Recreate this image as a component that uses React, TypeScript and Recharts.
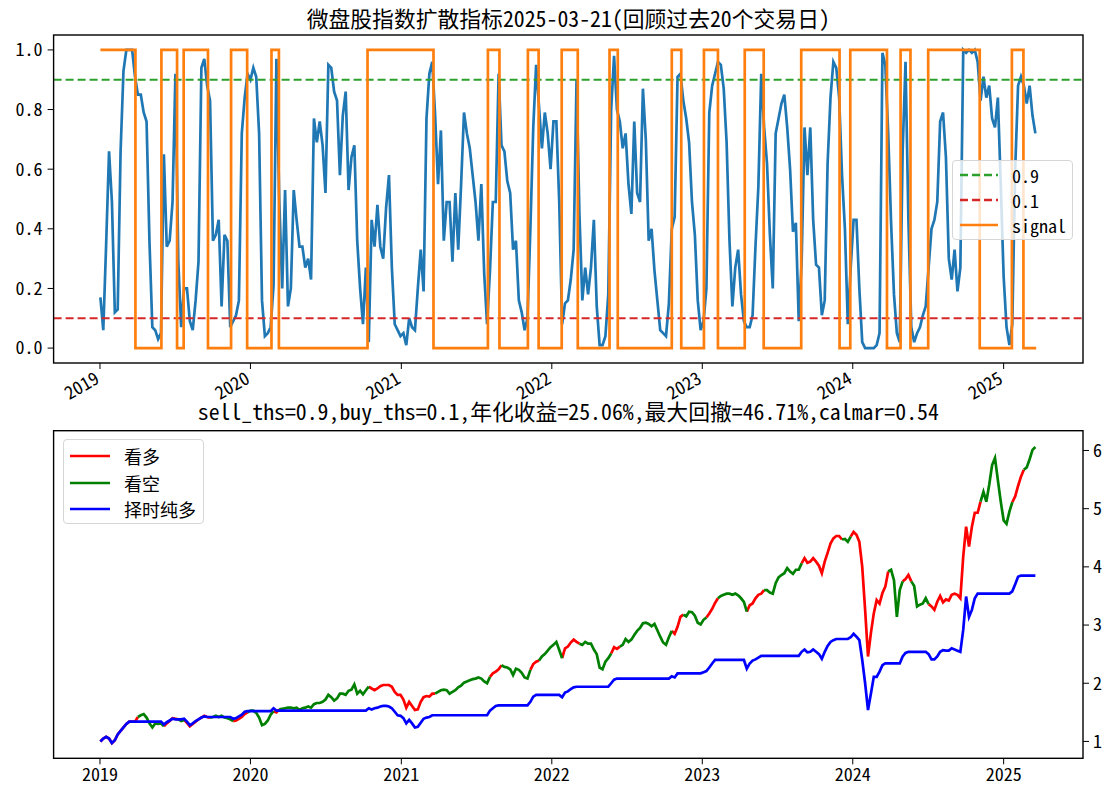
import { LineChart, Line, XAxis, YAxis, ReferenceLine } from 'recharts';

const FONT = "'Noto Sans Mono CJK SC', 'Noto Sans CJK SC', 'Noto Sans', sans-serif";
const DAY = 24 * 3600 * 1000;
const START = Date.UTC(2019, 0, 2);
const END = Date.UTC(2025, 2, 21);

// 扩散指标，从2019-01-02起每周一个点
const breadth2019 = [
  0.17, 0.06, 0.35, 0.66, 0.49, 0.12, 0.13, 0.66, 0.93, 1.0,
  1.0, 1.0, 0.91, 0.85, 0.85, 0.79, 0.76, 0.36, 0.07, 0.06,
  0.03, 0.05, 0.65, 0.34, 0.36, 0.49, 0.92, 0.29, 0.07, 0.2,
  0.2, 0.09, 0.06, 0.16, 0.29, 0.94, 0.97, 0.88, 0.83, 0.36,
  0.38, 0.43, 0.14, 0.38, 0.36, 0.07, 0.09, 0.11, 0.16, 0.72,
  0.84, 0.92,
];
const breadth2020 = [
  0.9, 0.94, 0.91, 0.72, 0.16, 0.04, 0.05, 0.07, 0.21, 0.97,
  0.49, 0.2, 0.53, 0.14, 0.2, 0.53, 0.43, 0.34, 0.34, 0.27,
  0.3, 0.23, 0.77, 0.69, 0.76, 0.68, 0.52, 0.95, 0.94, 0.86,
  0.83, 0.58, 0.78, 0.86, 0.53, 0.64, 0.68, 0.36, 0.2, 0.08,
  0.27, 0.02, 0.43, 0.34, 0.48, 0.34, 0.3, 0.47, 0.58, 0.27,
  0.08, 0.06,
];
const breadth2021 = [
  0.04, 0.05, 0.01, 0.1, 0.07, 0.06, 0.2, 0.33, 0.19, 0.77,
  0.92, 0.96, 0.78, 0.55, 0.73, 0.36, 0.49, 0.49, 0.29, 0.52,
  0.33, 0.55, 0.79, 0.72, 0.67, 0.58, 0.49, 0.36, 0.55, 0.25,
  0.08, 0.26, 0.49, 0.49, 0.92, 0.68, 0.66, 0.56, 0.52, 0.33,
  0.36, 0.16, 0.12, 0.06, 0.1, 0.4, 0.74, 0.95, 0.81, 0.67,
  0.79, 0.72,
];
const breadth2022 = [
  0.6, 0.76, 0.76, 0.49, 0.08, 0.15, 0.16, 0.23, 0.33, 0.9,
  0.45, 0.16, 0.27, 0.18, 0.27, 0.43, 0.14, 0.01, 0.01, 0.04,
  0.18, 0.8, 0.98, 0.8, 0.76, 0.67, 0.72, 0.55, 0.45, 0.76,
  0.52, 0.49, 0.87, 0.7, 0.36, 0.4, 0.26, 0.16, 0.06, 0.05,
  0.04, 0.15, 0.4, 0.44, 0.91, 0.92, 0.83, 0.77, 0.69, 0.49,
  0.38, 0.16,
];
const breadth2023 = [
  0.06, 0.09, 0.2, 0.79, 0.88, 0.92, 0.96, 0.95, 0.87, 0.69,
  0.36, 0.14, 0.27, 0.33, 0.18, 0.09, 0.07, 0.07, 0.11, 0.34,
  0.54, 0.92, 0.74, 0.62, 0.38, 0.2, 0.72, 0.77, 0.82, 0.85,
  0.74, 0.6, 0.39, 0.42, 0.09, 0.29, 0.74, 0.58, 0.74, 0.43,
  0.28, 0.27, 0.11, 0.16, 0.62, 0.84, 0.96, 0.94, 0.84, 0.58,
  0.4, 0.08,
];
const breadth2024 = [
  0.27, 0.43, 0.43, 0.2, 0.02, 0.0, 0.0, 0.0, 0.0, 0.01,
  0.05, 0.99, 0.95, 0.72, 0.42, 0.18, 0.05, 0.02, 0.66, 0.96,
  0.43, 0.07, 0.02, 0.05, 0.07, 0.11, 0.14, 0.27, 0.4, 0.43,
  0.49, 0.76, 0.79, 0.64, 0.3, 0.23, 0.33, 0.19, 0.27, 1.0,
  0.99, 1.0, 0.99, 1.0, 0.96, 0.83, 0.91, 0.84, 0.88, 0.77,
  0.74, 0.84,
];
const breadth2025 = [0.55, 0.24, 0.07, 0.01, 0.08, 0.6, 0.88, 0.91, 0.88, 0.82, 0.88, 0.78, 0.72];

// 信号切换日期 (1 = 看多, 0 = 看空)
const signalSwitches: [string, number][] = [
  ['2019-01-02', 1], ['2019-03-28', 0], ['2019-05-30', 1], ['2019-07-07', 0],
  ['2019-07-23', 1], ['2019-09-20', 0], ['2019-11-15', 1], ['2019-12-24', 0],
  ['2020-02-21', 1], ['2020-03-10', 0], ['2020-10-11', 1], ['2021-03-20', 0],
  ['2021-07-30', 1], ['2021-08-27', 0], ['2021-11-04', 1], ['2021-11-30', 0],
  ['2022-01-25', 1], ['2022-03-05', 0], ['2022-05-21', 1], ['2022-06-10', 0],
  ['2022-10-19', 1], ['2022-11-11', 0], ['2023-01-05', 1], ['2023-02-08', 0],
  ['2023-04-14', 1], ['2023-05-30', 0], ['2023-08-29', 1], ['2023-11-30', 0],
  ['2023-12-26', 1], ['2024-03-24', 0], ['2024-04-26', 1], ['2024-05-20', 0],
  ['2024-07-02', 1], ['2024-11-04', 0], ['2025-01-21', 1], ['2025-02-18', 0],
  ['2025-03-21', 0],
];

// 微盘股净值
const index2019 = [
  1.0, 1.05, 1.08, 1.05, 0.97, 1.02, 1.12, 1.18, 1.24, 1.3,
  1.34, 1.34, 1.34, 1.42, 1.45, 1.47, 1.41, 1.31, 1.24, 1.31,
  1.3, 1.31, 1.26, 1.31, 1.35, 1.4, 1.39, 1.38, 1.35, 1.37,
  1.32, 1.26, 1.3, 1.34, 1.38, 1.41, 1.44, 1.42, 1.41, 1.42,
  1.44, 1.42, 1.44, 1.41, 1.4, 1.38, 1.35, 1.36, 1.39, 1.42,
  1.47, 1.5,
];
const index2020 = [
  1.53, 1.53, 1.49, 1.41, 1.28, 1.3, 1.36, 1.46, 1.52, 1.5,
  1.55, 1.56, 1.57, 1.58, 1.58, 1.57, 1.58, 1.54, 1.57, 1.58,
  1.6, 1.58, 1.64, 1.66, 1.66, 1.68, 1.72, 1.8, 1.76, 1.7,
  1.74, 1.82, 1.82, 1.8, 1.87, 1.89, 1.98, 1.82, 1.87, 1.81,
  1.88, 1.94, 1.91, 1.88, 1.91, 1.95, 1.97, 1.97, 1.97, 1.94,
  1.85, 1.8,
];
const index2021 = [
  1.8, 1.72, 1.58, 1.68, 1.61, 1.54, 1.55, 1.68, 1.76, 1.78,
  1.77, 1.82, 1.82, 1.85, 1.88, 1.89, 1.88, 1.82, 1.85, 1.88,
  1.93, 1.96, 2.01, 2.03, 2.05, 2.07, 2.08, 2.1, 2.08, 2.03,
  2.0, 2.11, 2.17, 2.2, 2.24, 2.31, 2.28, 2.27, 2.24, 2.14,
  2.25, 2.23, 2.18, 2.1, 2.08, 2.23, 2.33, 2.37, 2.39, 2.46,
  2.5, 2.56,
];
const index2022 = [
  2.62, 2.66, 2.71, 2.57, 2.43, 2.6, 2.63, 2.7, 2.75, 2.71,
  2.68, 2.66, 2.71, 2.68, 2.68, 2.58, 2.5, 2.27, 2.24, 2.37,
  2.43, 2.51, 2.62, 2.59, 2.63, 2.66, 2.76, 2.71, 2.75, 2.83,
  2.9, 2.95, 3.03, 3.04, 3.02, 2.98, 3.02, 2.91, 2.8, 2.7,
  2.66, 2.79, 2.9, 2.85, 2.97, 3.14, 3.18, 3.15, 3.23, 3.22,
  3.16, 3.04,
];
const index2023 = [
  3.01, 3.09, 3.13, 3.2, 3.28, 3.38, 3.46, 3.5, 3.52, 3.54,
  3.54, 3.52, 3.54, 3.51, 3.46, 3.4, 3.23, 3.34, 3.37, 3.46,
  3.52, 3.54, 3.6, 3.6, 3.56, 3.54, 3.72, 3.82, 3.86, 3.89,
  3.98, 3.92, 3.88, 3.95, 3.95, 4.06, 4.15, 4.07, 4.09, 4.15,
  4.09, 4.02, 3.89, 4.09, 4.24, 4.4, 4.49, 4.53, 4.53, 4.47,
  4.48, 4.43,
];
const index2024 = [
  4.52, 4.6, 4.55, 4.43, 4.0, 3.26, 2.46, 2.86, 3.2, 3.43,
  3.37, 3.55, 3.66, 3.92, 3.95, 3.77, 3.14, 3.6, 3.75, 3.79,
  3.86, 3.75, 3.67, 3.32, 3.35, 3.37, 3.46, 3.36, 3.32, 3.26,
  3.4, 3.5, 3.39, 3.44, 3.42, 3.52, 3.54, 3.52, 3.46, 4.18,
  4.69, 4.35, 4.69, 4.93, 4.93, 5.12, 5.29, 5.12, 5.41, 5.75,
  5.87, 5.49,
];
const index2025 = [5.12, 4.8, 4.74, 4.95, 5.11, 5.21, 5.39, 5.55, 5.67, 5.71, 5.85, 6.01, 6.06];

// 择时纯多
const longOnly2019 = [
  1.0, 1.05, 1.08, 1.05, 0.97, 1.02, 1.12, 1.18, 1.24, 1.3,
  1.34, 1.34, 1.34, 1.34, 1.34, 1.34, 1.34, 1.34, 1.34, 1.34,
  1.34, 1.34, 1.29, 1.33, 1.36, 1.39, 1.38, 1.38, 1.38, 1.39,
  1.34, 1.28, 1.31, 1.35, 1.38, 1.41, 1.43, 1.42, 1.42, 1.42,
  1.42, 1.42, 1.42, 1.42, 1.42, 1.42, 1.39, 1.4, 1.43, 1.46,
  1.51, 1.52,
];
const longOnly2020 = [
  1.52, 1.52, 1.52, 1.52, 1.52, 1.52, 1.52, 1.52, 1.57, 1.53,
  1.53, 1.53, 1.53, 1.53, 1.53, 1.53, 1.53, 1.53, 1.53, 1.53,
  1.53, 1.53, 1.53, 1.53, 1.53, 1.53, 1.53, 1.53, 1.53, 1.53,
  1.53, 1.53, 1.53, 1.53, 1.53, 1.53, 1.53, 1.53, 1.53, 1.53,
  1.53, 1.57, 1.55, 1.57, 1.58, 1.6, 1.61, 1.61, 1.6, 1.57,
  1.51, 1.45,
];
const longOnly2021 = [
  1.44, 1.4, 1.31, 1.37, 1.31, 1.24, 1.25, 1.32, 1.39, 1.41,
  1.42, 1.45, 1.45, 1.45, 1.45, 1.45, 1.45, 1.45, 1.45, 1.45,
  1.45, 1.45, 1.45, 1.45, 1.45, 1.45, 1.45, 1.45, 1.45, 1.45,
  1.45, 1.53, 1.57, 1.61, 1.62, 1.62, 1.62, 1.62, 1.62, 1.62,
  1.62, 1.62, 1.62, 1.62, 1.62, 1.68, 1.77, 1.8, 1.8, 1.8,
  1.8, 1.8,
];
const longOnly2022 = [
  1.8, 1.8, 1.8, 1.8, 1.76, 1.84, 1.86, 1.9, 1.93, 1.94,
  1.94, 1.94, 1.94, 1.94, 1.94, 1.94, 1.94, 1.94, 1.94, 1.94,
  1.94, 2.0, 2.06, 2.08, 2.08, 2.08, 2.08, 2.08, 2.08, 2.08,
  2.08, 2.08, 2.08, 2.08, 2.08, 2.08, 2.08, 2.08, 2.08, 2.08,
  2.08, 2.08, 2.12, 2.1, 2.17, 2.17, 2.17, 2.17, 2.17, 2.17,
  2.17, 2.17,
];
const longOnly2023 = [
  2.17, 2.19, 2.21, 2.27, 2.34, 2.4, 2.4, 2.4, 2.4, 2.4,
  2.4, 2.4, 2.4, 2.4, 2.4, 2.4, 2.25, 2.34, 2.39, 2.41,
  2.44, 2.47, 2.47, 2.47, 2.47, 2.47, 2.47, 2.47, 2.47, 2.47,
  2.47, 2.47, 2.47, 2.47, 2.47, 2.54, 2.58, 2.53, 2.54, 2.58,
  2.54, 2.5, 2.42, 2.54, 2.64, 2.71, 2.74, 2.76, 2.76, 2.76,
  2.76, 2.76,
];
const longOnly2024 = [
  2.79, 2.85, 2.8, 2.74, 2.4, 2.0, 1.54, 1.82, 2.11, 2.11,
  2.2, 2.31, 2.34, 2.34, 2.34, 2.34, 2.34, 2.34, 2.46, 2.52,
  2.54, 2.54, 2.54, 2.54, 2.54, 2.54, 2.54, 2.5, 2.41, 2.41,
  2.46, 2.54, 2.57, 2.56, 2.56, 2.6, 2.58, 2.56, 2.54, 2.92,
  3.49, 3.14, 3.26, 3.46, 3.54, 3.54, 3.54, 3.54, 3.54, 3.54,
  3.54, 3.54,
];
const longOnly2025 = [3.54, 3.54, 3.54, 3.54, 3.58, 3.7, 3.83, 3.85, 3.85, 3.85, 3.85, 3.85, 3.85];

const years = [2019, 2020, 2021, 2022, 2023, 2024, 2025];
const topTitle = '微盘股指数扩散指标2025-03-21(回顾过去20个交易日)';
const bottomTitle = 'sell_ths=0.9,buy_ths=0.1,年化收益=25.06%,最大回撤=46.71%,calmar=0.54';

// ---- layout ----
const W = 1116;
const H = 792;
const PLOT_L = 53.6;
const PLOT_R = 1083;
const TOP_Y0 = 35;
const TOP_Y1 = 363;
const TOP_H = 420; // top svg is taller so slanted labels are not clipped
const BOT_TOP = 400; // second chart's svg starts here
const BOT_Y0 = 430.7;
const BOT_Y1 = 758.3;

const breadth = [...breadth2019, ...breadth2020, ...breadth2021, ...breadth2022, ...breadth2023, ...breadth2024, ...breadth2025];
const indexNav = [...index2019, ...index2020, ...index2021, ...index2022, ...index2023, ...index2024, ...index2025];
const longOnly = [...longOnly2019, ...longOnly2020, ...longOnly2021, ...longOnly2022, ...longOnly2023, ...longOnly2024, ...longOnly2025];

const weekTime = (i: number) => START + i * 7 * DAY;
const span = END - START;
const X_DOMAIN: [number, number] = [START - span * 0.05, END + span * 0.05];
const yearTicks = years.map((y) => Date.UTC(y, 0, 1));

const switchRows = signalSwitches.map(([d, s]) => ({ t: Date.parse(d), s }));
const signalAt = (t: number) => {
  let s = switchRows[0].s;
  for (const r of switchRows) if (r.t <= t) s = r.s;
  return s;
};

const topRows = breadth.map((v, i) => ({ t: weekTime(i), v }));
const bottomRows = indexNav.map((v, i) => {
  const t = weekTime(i);
  const s = signalAt(t);
  const prev = i > 0 ? signalAt(weekTime(i - 1)) : s;
  return {
    t,
    red: s === 1 || prev === 1 ? v : null,
    green: s === 0 || prev === 0 ? v : null,
    blue: longOnly[i],
  };
});

const tickFont = { fill: '#000', fontSize: 18, fontFamily: FONT };
const yearOf = (v: number) => String(new Date(v).getUTCFullYear());

const SlantTick = ({ x, y, payload }: any) => (
  <g transform={`translate(${x - 6},${y})`}>
    <text x={0} y={0} dy={13} textAnchor="end" transform="rotate(-30)" {...tickFont}>
      {yearOf(payload.value)}
    </text>
  </g>
);

type LegendItem = { label: string; color: string; dash?: string };

function LegendBox({ left, top, width, height, items, lineX, lineW, textX, firstY, gap }: {
  left: number; top: number; width: number; height: number; items: LegendItem[];
  lineX: number; lineW: number; textX: number; firstY: number; gap: number;
}) {
  return (
    <div style={{
      position: 'absolute', left, top, width, height, boxSizing: 'border-box',
      background: 'rgba(255,255,255,0.8)', border: '1px solid #d6d6d6', borderRadius: 4,
    }}>
      {items.map((it, i) => {
        const cy = firstY + i * gap;
        return (
          <div key={it.label}>
            <svg width={lineW} height={6} style={{ position: 'absolute', left: lineX, top: cy - 3 }}>
              <line x1={0} y1={3} x2={lineW} y2={3} stroke={it.color} strokeWidth={2.7} strokeDasharray={it.dash} />
            </svg>
            <span style={{ position: 'absolute', left: textX, top: cy - 11, fontSize: 18, lineHeight: '22px', whiteSpace: 'nowrap', color: '#000' }}>
              {it.label}
            </span>
          </div>
        );
      })}
    </div>
  );
}

const titleStyle = (centerY: number): React.CSSProperties => ({
  position: 'absolute', left: PLOT_L, width: PLOT_R - PLOT_L, top: centerY - 13, height: 26,
  lineHeight: '26px', fontSize: 21.8, textAlign: 'center', color: '#000', whiteSpace: 'nowrap',
});

export default function App() {
  return (
    <div style={{ position: 'absolute', left: 0, top: 0, width: W, height: H, background: '#fff', fontFamily: FONT }}>
      <div style={titleStyle(18)}>{topTitle}</div>
      <div style={titleStyle(411)}>{bottomTitle}</div>

      <div style={{ position: 'absolute', left: 0, top: BOT_TOP }}>
        <LineChart width={W} height={H - BOT_TOP} data={bottomRows}
          margin={{ top: BOT_Y0 - BOT_TOP, right: 0, bottom: 0, left: PLOT_L }}>
          <XAxis dataKey="t" type="number" domain={X_DOMAIN} allowDataOverflow ticks={yearTicks}
            tickFormatter={yearOf} tickSize={6} tickMargin={4} axisLine={false} stroke="#000"
            tick={tickFont} height={H - BOT_Y1} />
          <YAxis orientation="right" type="number" domain={[0.71, 6.34]} allowDataOverflow
            ticks={[1, 2, 3, 4, 5, 6]} width={W - PLOT_R} tickSize={6} tickMargin={4}
            axisLine={false} stroke="#000" tick={tickFont} />
          <Line dataKey="red" stroke="#ff0000" strokeWidth={2.7} dot={false} activeDot={false} connectNulls={false} isAnimationActive={false} />
          <Line dataKey="green" stroke="#008000" strokeWidth={2.7} dot={false} activeDot={false} connectNulls={false} isAnimationActive={false} />
          <Line dataKey="blue" stroke="#0000ff" strokeWidth={2.7} dot={false} activeDot={false} isAnimationActive={false} />
        </LineChart>
      </div>

      <div style={{ position: 'absolute', left: 0, top: 0 }}>
        <LineChart width={W} height={TOP_H} data={topRows}
          margin={{ top: TOP_Y0, right: W - PLOT_R, bottom: 0, left: 0 }}>
          <XAxis dataKey="t" type="number" domain={X_DOMAIN} allowDataOverflow ticks={yearTicks}
            tick={<SlantTick />} tickSize={6} axisLine={false} stroke="#000" height={TOP_H - TOP_Y1} />
          <YAxis type="number" domain={[-0.05, 1.05]} allowDataOverflow ticks={[0, 0.2, 0.4, 0.6, 0.8, 1.0]}
            tickFormatter={(v: number) => v.toFixed(1)} width={PLOT_L} tickSize={6} tickMargin={5}
            axisLine={false} stroke="#000" tick={tickFont} />
          <Line dataKey="v" stroke="#1f77b4" strokeWidth={2.7} dot={false} activeDot={false} isAnimationActive={false} />
          <ReferenceLine y={0.9} stroke="#2ca02c" strokeWidth={2} strokeDasharray="8 4" />
          <ReferenceLine y={0.1} stroke="#d62728" strokeWidth={2} strokeDasharray="8 4" />
          <Line data={switchRows} dataKey="s" type="stepAfter" stroke="#ff7f0e" strokeWidth={2.7}
            dot={false} activeDot={false} isAnimationActive={false} />
        </LineChart>
      </div>

      <svg width={W} height={H} style={{ position: 'absolute', left: 0, top: 0, pointerEvents: 'none' }}>
        <rect x={PLOT_L} y={TOP_Y0} width={PLOT_R - PLOT_L} height={TOP_Y1 - TOP_Y0} fill="none" stroke="#000" strokeWidth={1.4} />
        <rect x={PLOT_L} y={BOT_Y0} width={PLOT_R - PLOT_L} height={BOT_Y1 - BOT_Y0} fill="none" stroke="#000" strokeWidth={1.4} />
      </svg>

      <LegendBox left={952} top={160} width={121} height={80} lineX={7} lineW={38} textX={59} firstY={14} gap={25}
        items={[
          { label: '0.9', color: '#2ca02c', dash: '8 4' },
          { label: '0.1', color: '#d62728', dash: '8 4' },
          { label: 'signal', color: '#ff7f0e' },
        ]} />
      <LegendBox left={63} top={439} width={141} height={85} lineX={6} lineW={40} textX={60} firstY={16} gap={26.6}
        items={[
          { label: '看多', color: '#ff0000' },
          { label: '看空', color: '#008000' },
          { label: '择时纯多', color: '#0000ff' },
        ]} />
    </div>
  );
}
